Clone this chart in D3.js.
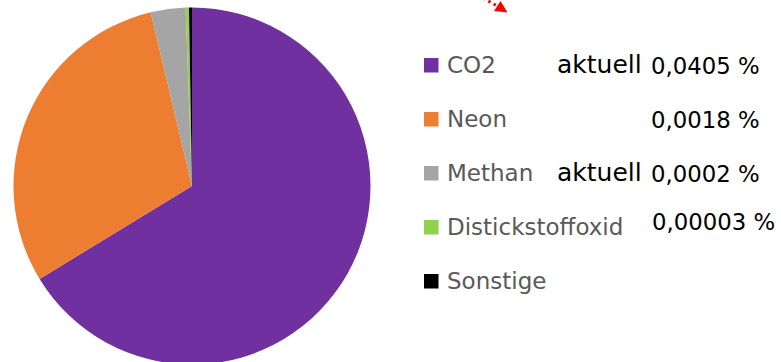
<!DOCTYPE html>
<html lang="de">
<head>
<meta charset="utf-8">
<title>Spurengase</title>
<script src="https://cdn.jsdelivr.net/npm/d3@7"></script>
<style>
  html, body { margin: 0; padding: 0; background: #ffffff; }
  svg { display: block; }
  text { font-family: "DejaVu Sans", sans-serif; }
</style>
</head>
<body>
<svg id="chart" width="781" height="362"></svg>
<script>
// Gases and their share of the pie (percent of the circle)
const categories = ["CO2", "Neon", "Methan", "Distickstoffoxid", "Sonstige"];
const shares = [66.3, 30.0, 3.15, 0.3, 0.27];
const colors = ["#7030A0", "#ED7D31", "#A5A5A5", "#92D050", "#000000"];

// Notes written beside the legend: current concentrations in air
const notePrefixes = ["aktuell", "", "aktuell", "", ""];
const noteValues = ["0,0405 %", "0,0018 %", "0,0002 %", "0,00003 %", ""];

const svg = d3.select("#chart");

// ---- pie ----
const cx = 192, cy = 186, radius = 178.5;
const data = categories.map((c, i) => ({ name: c, value: shares[i], color: colors[i] }));
const pie = d3.pie().sort(null).value(d => d.value).startAngle(0).endAngle(2 * Math.PI);
const arc = d3.arc().innerRadius(0).outerRadius(radius);

svg.append("g")
  .attr("transform", `translate(${cx},${cy})`)
  .selectAll("path")
  .data(pie(data))
  .join("path")
  .attr("d", arc)
  .attr("fill", d => d.data.color);

// ---- legend ----
const rowY = d3.scalePoint().domain(categories).range([72.5, 288.5]);
const legend = svg.append("g");
const rows = legend.selectAll("g.row")
  .data(data)
  .join("g")
  .attr("class", "row")
  .attr("transform", d => `translate(0,${rowY(d.name)})`);

rows.append("rect")
  .attr("x", 424).attr("y", -14.5)
  .attr("width", 14.5).attr("height", 14.5)
  .attr("fill", d => d.color);

rows.append("text")
  .attr("x", 447).attr("y", 0)
  .attr("font-size", 23)
  .attr("fill", "#595959")
  .text(d => d.name);

// ---- notes ----
const notes = svg.append("g");
categories.forEach((c, i) => {
  const y = rowY(c);
  if (notePrefixes[i]) {
    notes.append("text")
      .attr("x", 557).attr("y", y + 0.5)
      .attr("font-size", 25)
      .attr("fill", "#000")
      .text(notePrefixes[i]);
  }
  if (noteValues[i]) {
    notes.append("text")
      .attr("x", i === 3 ? 652 : 651).attr("y", i === 3 ? y - 4.5 : y + 1.5)
      .attr("font-size", 22.8)
      .attr("fill", "#000")
      .text(noteValues[i]);
  }
});

// ---- red dotted pointer arrow at the top edge ----
const arrow = svg.append("g");
arrow.append("line")
  .attr("x1", 478).attr("y1", -5)
  .attr("x2", 497).attr("y2", 6)
  .attr("stroke", "#FF0000")
  .attr("stroke-width", 3)
  .attr("stroke-dasharray", "2.5 3.5");
arrow.append("path")
  .attr("d", d3.line()([[494, 11], [500.5, 1], [507.5, 12.5]]) + "Z")
  .attr("fill", "#FF0000");
</script>
</body>
</html>
